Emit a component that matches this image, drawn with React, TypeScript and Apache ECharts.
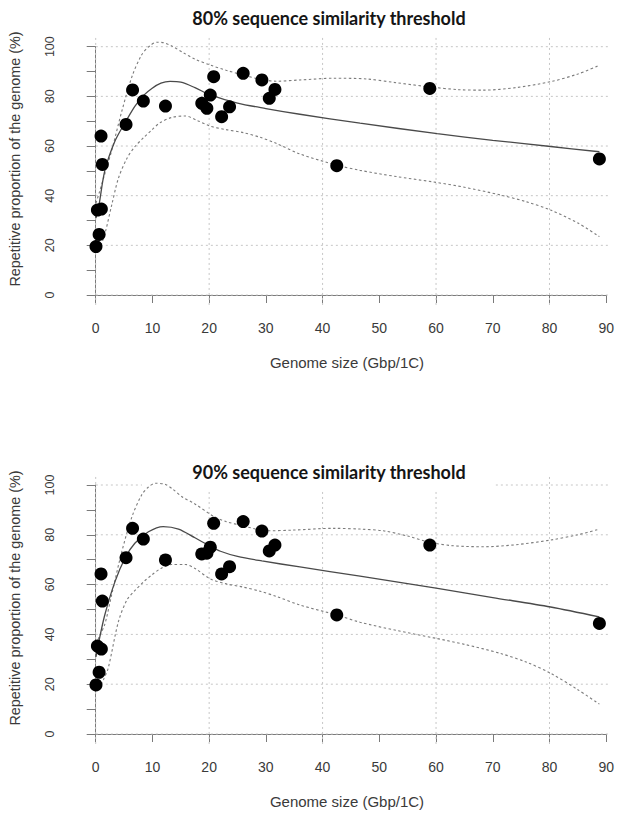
import React, { useEffect, useRef } from "react";
import * as echarts from "echarts";

// ---- data ----
const genomeSize = [0.05, 0.6, 0.3, 1.0, 1.17, 0.94, 5.35, 6.5, 8.4, 12.3, 18.7, 19.6, 20.2, 20.8, 22.2, 23.6, 26.0, 29.3, 30.6, 31.6, 42.5, 58.9, 88.8];
const repetitive80 = [19.5, 24.4, 34.2, 34.6, 52.6, 64.0, 68.7, 82.6, 78.1, 76.1, 77.2, 75.2, 80.5, 87.9, 71.8, 75.8, 89.3, 86.6, 79.2, 82.8, 52.1, 83.2, 54.8];
const repetitive90 = [19.7, 24.8, 35.3, 34.1, 53.4, 64.3, 70.8, 82.6, 78.3, 69.9, 72.3, 72.6, 75.0, 84.6, 64.3, 67.2, 85.3, 81.5, 73.5, 75.9, 47.8, 75.9, 44.4];

const fit80 = [[0.05, 31], [0.6, 36.5], [1.6, 50], [3.4, 62], [5.2, 69.5], [6.9, 76], [8.5, 80.5], [9.9, 83.2], [11.5, 85.3], [13.1, 86], [15, 85.7], [17.5, 83.5], [20.2, 80.6], [25, 77.3], [30, 75.1], [36, 72.8], [46.6, 69.2], [60.2, 65], [70, 62.3], [80.2, 59.8], [88.8, 57.7]];
const upper80 = [[0.05, 37], [0.6, 41], [1.5, 48], [2.8, 58], [4.6, 74], [6.4, 88], [8.1, 96.7], [9.5, 100.3], [10.8, 101.8], [12, 101.6], [13.4, 100.3], [15.5, 97.5], [17.5, 95], [20.2, 92.6], [23, 90.5], [26, 88.6], [29, 86.9], [31.8, 86.1], [36, 86.6], [42, 87.3], [47.8, 87], [53, 85.5], [58.9, 83.8], [64, 82.7], [68.4, 82.5], [74, 83.5], [80.2, 85.9], [85, 89], [88.8, 92.5]];
const lower80 = [[0.6, 18], [1.6, 24.5], [2.8, 36], [4, 47], [5.5, 55], [6.9, 59.7], [8.5, 63.5], [9.9, 66.5], [11.3, 69.3], [13.4, 71.5], [15.8, 72.1], [18, 70.2], [20.2, 68], [23, 66.6], [26, 65.4], [29, 63.5], [31.8, 61.1], [36, 56.8], [42.5, 52.3], [46.6, 50.2], [53, 47.7], [59.6, 45.5], [65, 43.4], [71.3, 40.3], [76, 37.5], [80.2, 34.2], [85, 29], [88.8, 23.5]];

const fit90 = [[0.05, 31], [0.5, 36.5], [1.6, 47.8], [3.4, 61.2], [5.2, 70.8], [6.9, 76.6], [9.3, 81.2], [11.9, 83.3], [14.6, 82.3], [17.5, 78.8], [20.2, 75.4], [22, 73.4], [25, 71.3], [29.3, 69.5], [36, 67.1], [46.6, 63.4], [60, 58.6], [70, 54.8], [80.2, 51], [88.8, 47]];
const upper90 = [[0.05, 36], [0.6, 39], [1.6, 44], [2.8, 55.8], [4.6, 73.2], [6.4, 87.3], [8.1, 96], [9.3, 99.2], [10.5, 100.7], [12.2, 100.3], [13.5, 98.5], [15.2, 95.3], [17.5, 92.4], [20.8, 87.4], [23, 85.3], [26, 83.6], [30.1, 81.6], [34.9, 81.9], [41.9, 82.6], [46.6, 82.3], [50.7, 81.6], [55, 79.5], [58.9, 77], [63, 75.6], [68.4, 75.2], [74, 76], [80.2, 77.9], [85, 80], [88.8, 82.3]];
const lower90 = [[0.6, 18], [1.4, 22], [2.2, 26.4], [4, 45.1], [5.5, 53.8], [6.9, 57.6], [8.5, 61.2], [9.9, 63.9], [11.5, 66.5], [13.4, 68.1], [15.8, 68.1], [17.5, 66.5], [20.2, 62.3], [23, 60.3], [26, 59], [29, 57.3], [31.8, 55.3], [36, 51.8], [42.5, 47.8], [46.6, 44.9], [53, 41.6], [59.6, 38.6], [65, 36], [71.3, 32.4], [76, 28.8], [80.2, 24.4], [85, 17.8], [88.8, 12]];

const titles = ["80% sequence similarity threshold", "90% sequence similarity threshold"];
const xTitle = "Genome size (Gbp/1C)";
const yTitle = "Repetitive proportion of the genome (%)";
const gridXValues = [0, 20, 40, 60, 80];
const gridYValues = [0, 20, 40, 60, 80, 100];
const yLimits = [-4, 104];

// ---- layout ----
const PANELS = [
  { top: 46.7, height: 248.3, titleY: 18, xLabelY: 362, yLabelY: 159 },
  { top: 485, height: 249, titleY: 471.7, xLabelY: 801, yLabelY: 598 },
];
const GRID_LEFT = 95.7;
const GRID_WIDTH = 510.5;

const minX = Math.min(...genomeSize);
const maxX = Math.max(...genomeSize);
const xPad = (maxX - minX) * 0.04;
const xLimits = [minX - xPad, maxX + xPad];

const AXIS_COLOR = "#7a7a7a";
const LABEL_COLOR = "#3a3a3a";
const SANS = "'Liberation Sans', Arial, sans-serif";

export default function App() {
  const ref = useRef<HTMLDivElement>(null);
  useEffect(() => {
    if (!ref.current) return;
    const chart = echarts.init(ref.current, null, { renderer: "svg" });
    const grids: any[] = [];
    const xAxes: any[] = [];
    const yAxes: any[] = [];
    const series: any[] = [];
    const graphics: any[] = [];
    const panelData = [
      { pts: repetitive80, fit: fit80, up: upper80, lo: lower80 },
      { pts: repetitive90, fit: fit90, up: upper90, lo: lower90 },
    ];
    PANELS.forEach((p, i) => {
      grids.push({ left: GRID_LEFT, top: p.top, width: GRID_WIDTH, height: p.height, containLabel: false });
      xAxes.push({
        gridIndex: i, type: "value", min: 0, max: 90, interval: 10, offset: 10,
        axisLine: { show: true, lineStyle: { color: AXIS_COLOR, width: 1 } },
        axisTick: { show: true, length: 8, lineStyle: { color: AXIS_COLOR } },
        axisLabel: { color: LABEL_COLOR, fontSize: 14, fontFamily: SANS, margin: 16 },
        splitLine: { show: false },
      });
      yAxes.push({
        gridIndex: i, type: "value", min: 0, max: 100, interval: 10, offset: 20,
        axisLine: { show: true, lineStyle: { color: AXIS_COLOR, width: 1 } },
        axisTick: { show: true, length: 9, lineStyle: { color: AXIS_COLOR } },
        axisLabel: {
          color: LABEL_COLOR, fontSize: 12.5, fontFamily: SANS, rotate: 90, margin: 19,
          formatter: (v: number) => (v % 20 === 0 ? String(v) : ""),
        },
        splitLine: { show: false },
      });
      const base = { xAxisIndex: i, yAxisIndex: i, clip: false, silent: true, symbol: "none", animation: false };
      gridYValues.forEach((y) => {
        series.push({ ...base, type: "line", z: 0, data: [[xLimits[0], y], [xLimits[1], y]], lineStyle: { color: "#c6c6c6", width: 1, type: [2, 3] } });
      });
      gridXValues.forEach((x) => {
        series.push({ ...base, type: "line", z: 0, data: [[x, yLimits[0]], [x, yLimits[1]]], lineStyle: { color: "#c6c6c6", width: 1, type: [2, 3] } });
      });
      const d = panelData[i];
      [d.up, d.lo].forEach((band) => {
        series.push({ ...base, type: "line", z: 2, smooth: 0.3, data: band, lineStyle: { color: "#7c7c7c", width: 1.1, type: [2.5, 2.5] } });
      });
      series.push({ ...base, type: "line", z: 2, smooth: 0.3, data: d.fit, lineStyle: { color: "#4a4a4a", width: 1.3 } });
      series.push({
        xAxisIndex: i, yAxisIndex: i, type: "scatter", z: 3, clip: false, silent: true,
        symbol: "circle", symbolSize: 13, itemStyle: { color: "#000", opacity: 1 },
        data: genomeSize.map((x, k) => [x, d.pts[k]]),
      });
      if (i === 1) {
        graphics.push({ type: "rect", z: 1, silent: true, shape: { x: 142, y: 455, width: 351, height: 35 }, style: { fill: "#fff" } });
      }
      graphics.push({
        type: "text", z: 10, x: 329, y: p.titleY,
        style: { text: titles[i], fill: "#151515", font: "bold 18px Lato, 'Open Sans', sans-serif", align: "center", verticalAlign: "middle", textAlign: "center", textVerticalAlign: "middle" },
      });
      graphics.push({
        type: "text", z: 10, x: 347, y: p.xLabelY,
        style: { text: xTitle, fill: LABEL_COLOR, font: `15px ${SANS}`, align: "center", verticalAlign: "middle", textAlign: "center", textVerticalAlign: "middle" },
      });
      graphics.push({
        type: "text", z: 10, x: 15, y: p.yLabelY, rotation: Math.PI / 2,
        style: { text: yTitle, fill: LABEL_COLOR, font: `14.4px ${SANS}`, align: "center", verticalAlign: "middle", textAlign: "center", textVerticalAlign: "middle" },
      });
    });
    chart.setOption({
      animation: false,
      backgroundColor: "#fff",
      grid: grids,
      xAxis: xAxes,
      yAxis: yAxes,
      series,
      graphic: { elements: graphics },
    });
    return () => chart.dispose();
  }, []);
  return <div ref={ref} style={{ position: "absolute", left: 0, top: 0, width: 617, height: 821, background: "#fff" }} />;
}
